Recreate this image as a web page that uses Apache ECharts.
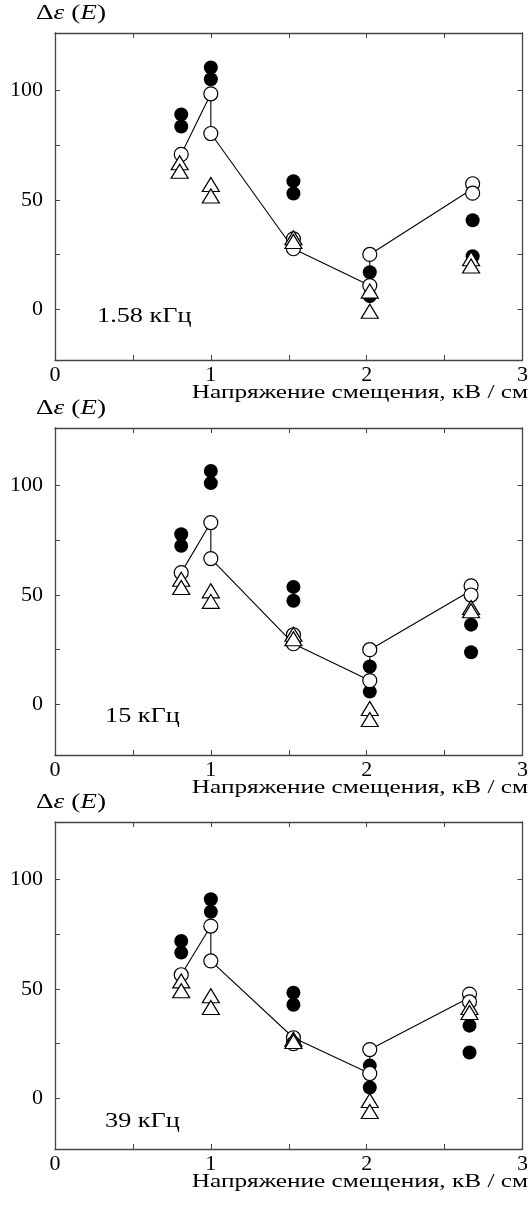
<!DOCTYPE html>
<html><head><meta charset="utf-8">
<script src="https://cdn.jsdelivr.net/npm/echarts@6/dist/echarts.min.js"></script>
<style>html,body{margin:0;padding:0;background:#fff}#c{width:531px;height:1205px}</style>
</head><body><div id="c"></div>
<script>
const yTickLabels = [0, 50, 100];
const yTicks = [0, 25, 50, 75, 100];
const xTickLabels = [0, 1, 2, 3];
const xTicks = [0, 0.5, 1, 1.5, 2, 2.5, 3];
const freqLabels = ['1.58 кГц', '15 кГц', '39 кГц'];
const xTitle = 'Напряжение смещения, кВ / см';

const p1Filled = [[0.81,88.9],[0.81,83.4],[1.0,110.3],[1.0,104.9],[1.53,58.5],[1.53,52.9],[2.02,17],[2.02,6.1],[2.68,40.7],[2.68,24.3]];
const p1Open = [[0.81,70.7],[1.0,98.3],[1.0,80.2],[1.53,32.2],[1.53,27.7],[2.02,25.1],[2.02,10.9],[2.68,57.3],[2.68,53]];
const p1Tri = [[0.80,66.9],[0.80,63],[1.0,57],[1.0,51.7],[1.53,32.7],[1.53,31],[2.02,8.4],[2.02,-0.8],[2.67,23.1],[2.67,19.8]];
const p1Line = [[0.81,70.7],[1.0,98.3],[1.0,80.2],[1.53,27.7],[2.02,10.9],[2.02,25.1],[2.68,55]];

const p2Filled = [[0.81,77.6],[0.81,72.3],[1.0,106.4],[1.0,100.9],[1.53,53.6],[1.53,47.3],[2.02,17.3],[2.02,5.9],[2.67,36.4],[2.67,23.8]];
const p2Open = [[0.81,60.1],[1.0,82.9],[1.0,66.5],[1.53,31.8],[1.53,27.7],[2.02,25],[2.02,10.9],[2.67,54.1],[2.67,49.9]];
const p2Tri = [[0.81,57.1],[0.81,53.3],[1.0,51.8],[1.0,47],[1.53,32],[1.53,30],[2.02,-1.8],[2.02,-6.8],[2.67,44.2],[2.67,42.7]];
const p2Line = [[0.81,60.1],[1.0,82.9],[1.0,66.5],[1.53,27.7],[2.02,10.9],[2.02,25],[2.67,52]];

const p3Filled = [[0.81,71.8],[0.81,66.5],[1.0,90.8],[1.0,85.1],[1.53,48.2],[1.53,42.7],[2.02,15],[2.02,5],[2.66,33.2],[2.66,21]];
const p3Open = [[0.81,56.4],[1.0,78.6],[1.0,62.7],[1.53,27.7],[1.53,25],[2.02,22.3],[2.02,11.4],[2.66,47.6],[2.66,44]];
const p3Tri = [[0.81,53.6],[0.81,49.1],[1.0,46.8],[1.0,41.5],[1.53,27],[1.53,26],[2.02,-0.9],[2.02,-5.9],[2.66,41.5],[2.66,39.2]];
const p3Line = [[0.81,56.4],[1.0,78.6],[1.0,62.7],[1.53,27.7],[2.02,11.4],[2.02,22.3],[2.66,46]];

const panels = [
  {filled:p1Filled, open:p1Open, tri:p1Tri, line:p1Line},
  {filled:p2Filled, open:p2Open, tri:p2Tri, line:p2Line},
  {filled:p3Filled, open:p3Open, tri:p3Tri, line:p3Line}
];

const FONT = '"Liberation Serif", "DejaVu Serif", serif';
const tops = [33, 428, 822];
const H = 327;
const axisCol = '#444';

const grid = [], xAxis = [], yAxis = [], series = [], graphic = [];
tops.forEach((t, i) => {
  grid.push({left: 55, width: 469, top: t, height: H});
  const baseX = {gridIndex: i, type: 'value', min: 0, max: 3, interval: 0.5,
    axisLine: {show: true, onZero: false, lineStyle: {color: axisCol, width: 1.3}},
    axisTick: {show: true, inside: true, length: 5, customValues: xTicks, lineStyle: {color: axisCol}},
    splitLine: {show: false}};
  xAxis.push(Object.assign({}, baseX, {position: 'bottom',
    axisLabel: {show: true, customValues: xTickLabels, color: '#000', fontFamily: FONT, fontSize: 22, margin: 4}}));
  xAxis.push(Object.assign({}, baseX, {position: 'top', axisLabel: {show: false}}));
  const baseY = {gridIndex: i, type: 'value', min: -23, max: 126,
    axisLine: {show: true, onZero: false, lineStyle: {color: axisCol, width: 1.3}},
    axisTick: {show: true, inside: true, length: 5, customValues: yTicks, lineStyle: {color: axisCol}},
    splitLine: {show: false}};
  yAxis.push(Object.assign({}, baseY, {position: 'left',
    axisLabel: {show: true, customValues: yTickLabels, color: '#000', fontFamily: FONT, fontSize: 22, margin: 12}}));
  yAxis.push(Object.assign({}, baseY, {position: 'right', axisLabel: {show: false}}));

  const xi = 2 * i, yi = 2 * i;
  const p = panels[i];
  series.push({type: 'line', xAxisIndex: xi, yAxisIndex: yi, data: p.line, showSymbol: false, symbol: 'none',
    lineStyle: {color: '#000', width: 1.1}, z: 2, silent: true, animation: false});
  series.push({type: 'scatter', xAxisIndex: xi, yAxisIndex: yi, data: p.filled, symbol: 'circle', symbolSize: 14,
    itemStyle: {color: '#000', opacity: 1}, z: 3, animation: false});
  series.push({type: 'scatter', xAxisIndex: xi, yAxisIndex: yi, data: p.open, symbol: 'circle', symbolSize: 14,
    itemStyle: {color: '#fff', borderColor: '#000', borderWidth: 1.2, opacity: 1}, z: 4, animation: false});
  series.push({type: 'scatter', xAxisIndex: xi, yAxisIndex: yi, data: p.tri, symbol: 'triangle', symbolSize: [17, 14],
    itemStyle: {color: '#fff', borderColor: '#000', borderWidth: 1.2, opacity: 1}, z: 5, animation: false});

  graphic.push({type: 'text', x: 36, y: t - 30, scaleX: 1.3, style: {
    text: '{n|Δ}{i|ε}{n| (}{i|E}{n|)}', rich: {
      n: {fontFamily: FONT, fontSize: 21, fill: '#000'},
      i: {fontFamily: FONT, fontSize: 21, fontStyle: 'italic', fill: '#000'}}}});
  graphic.push({type: 'text', x: 528, y: t + H + 24, scaleX: 1.33, style: {
    text: xTitle, textAlign: 'right', fontFamily: FONT, fontSize: 19, fill: '#000'}});
});
const freqPos = [[97, 306], [105, 706], [105, 1111]];
freqLabels.forEach((s, i) => {
  graphic.push({type: 'text', x: freqPos[i][0], y: freqPos[i][1], scaleX: 1.25, style: {
    text: s, fontFamily: FONT, fontSize: 21, fill: '#000'}});
});

const chart = echarts.init(document.getElementById('c'), null, {renderer: 'canvas'});
chart.setOption({animation: false, backgroundColor: '#fff', grid, xAxis, yAxis, series, graphic});
</script>
</body></html>
